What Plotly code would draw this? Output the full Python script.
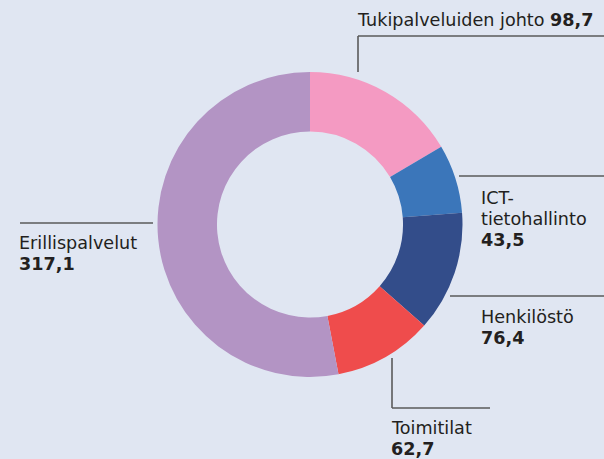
import plotly.graph_objects as go

# ---- data ----
labels = ["Tukipalveluiden johto", "ICT-tietohallinto", "Henkilöstö", "Toimitilat", "Erillispalvelut"]
values = [98.7, 43.5, 76.4, 62.7, 317.1]
colors = ["#F49AC2", "#3B76BA", "#334D8A", "#EF4C4C", "#B394C4"]

W, H = 604, 459
BG = "#E0E6F2"
TXT = "#231F20"
LINE = "#5A5A5A"
FONT = "DejaVu Sans"
FS = 17.6


def px(x):
    return x / W


def py(y):
    return 1 - y / H


def fmt(v):
    return f"{v:.1f}".replace(".", ",")


fig = go.Figure(go.Pie(
    labels=labels,
    values=values,
    marker=dict(colors=colors, line=dict(width=0)),
    hole=0.61,
    sort=False,
    direction="clockwise",
    rotation=0,
    textinfo="none",
    hoverinfo="label+value",
    domain=dict(x=[px(157), px(463)], y=[py(377), py(72)]),
    showlegend=False,
))

annotations = []


def ann(x, y, text):
    annotations.append(dict(
        x=px(x), y=py(y), xref="paper", yref="paper",
        xanchor="left", yanchor="middle", showarrow=False,
        text=text, align="left",
        font=dict(family=FONT, size=FS, color=TXT),
    ))


# Tukipalveluiden johto (single line)
ann(355, 20, f"{labels[0]} <b>{fmt(values[0])}</b>")
# ICT-tietohallinto (split over two lines)
ann(479, 198, "ICT-")
ann(479, 219, "tietohallinto")
ann(479, 240, f"<b>{fmt(values[1])}</b>")
# Henkilöstö
ann(479, 317, labels[2])
ann(479, 338, f"<b>{fmt(values[2])}</b>")
# Toimitilat
ann(389, 428, labels[3])
ann(389, 449, f"<b>{fmt(values[3])}</b>")
# Erillispalvelut
ann(17, 243, labels[4])
ann(17, 264, f"<b>{fmt(values[4])}</b>")

shapes = []


def seg(x0, y0, x1, y1):
    shapes.append(dict(type="line", xref="paper", yref="paper",
                       x0=px(x0), y0=py(y0), x1=px(x1), y1=py(y1),
                       line=dict(color=LINE, width=1.6)))


seg(358, 72, 358, 36)
seg(358, 36, 604, 36)
seg(459, 176, 604, 176)
seg(450, 296, 604, 296)
seg(392, 358, 392, 408)
seg(392, 408, 490, 408)
seg(20, 223, 153, 223)

fig.update_layout(
    width=W, height=H,
    margin=dict(l=0, r=0, t=0, b=0),
    paper_bgcolor=BG, plot_bgcolor=BG,
    annotations=annotations, shapes=shapes,
    font=dict(family=FONT),
)

fig.write_html(
    "out.html",
    config={"displayModeBar": False},
    post_script="document.body.style.margin='0';document.body.style.background='%s';" % BG,
)
